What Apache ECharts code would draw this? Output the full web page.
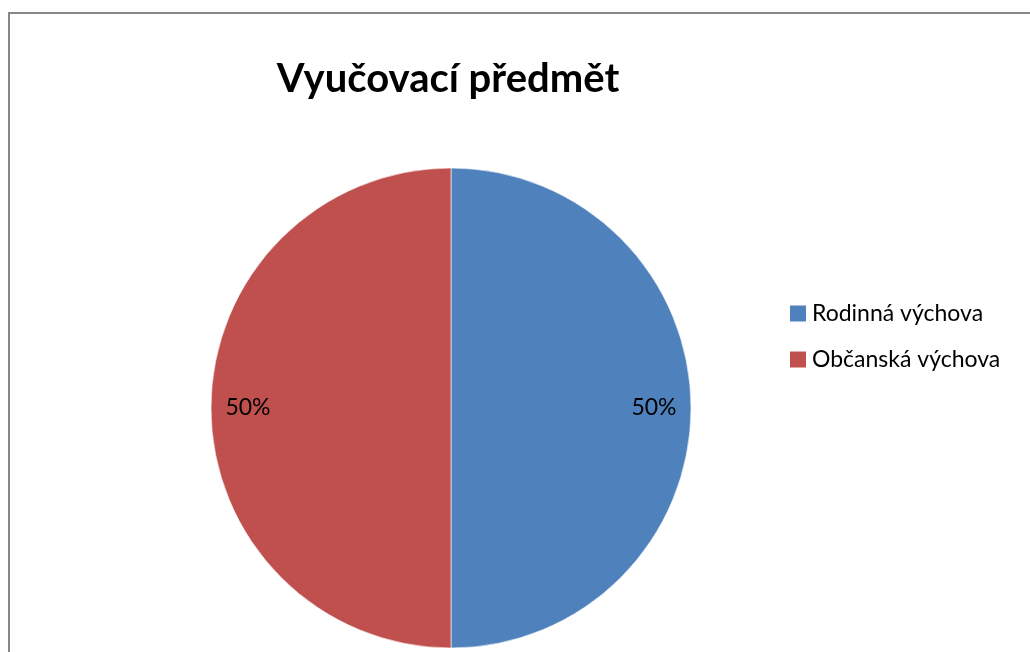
<!DOCTYPE html>
<html><head><meta charset="utf-8">
<script src="https://cdn.jsdelivr.net/npm/echarts@6/dist/echarts.min.js"></script>
<style>html,body{margin:0;padding:0;background:#fff}#c{width:1030px;height:652px}</style>
</head><body><div id="c"></div>
<script>
const titleText = 'Vyučovací předmět';
const categories = ['Rodinná výchova', 'Občanská výchova'];
const values = [50, 50];
const colors = ['#4F81BD', '#C0504D'];

const data = categories.map((n, i) => ({ name: n, value: values[i], itemStyle: { color: colors[i] } }));
const chart = echarts.init(document.getElementById('c'), null, { renderer: 'canvas' });
chart.setOption({
  animation: false,
  graphic: [{
    type: 'rect', shape: { x: 9, y: 13, width: 1100, height: 700 },
    style: { fill: 'none', stroke: '#878787', lineWidth: 2 }, silent: true
  }],
  title: {
    text: titleText, left: 443, top: 54, textAlign: 'center',
    textStyle: { fontFamily: 'Lato', fontWeight: 'bold', fontSize: 40, color: '#000' }
  },
  legend: {
    orient: 'vertical', left: 783, top: 297, itemWidth: 18, itemHeight: 18, itemGap: 23,
    icon: 'rect', data: categories,
    textStyle: { fontFamily: 'Lato', fontSize: 23, color: '#000', padding: [0, 0, 0, 0] }
  },
  series: [{
    type: 'pie', center: [451, 408], radius: [0, 240], startAngle: 90, clockwise: true,
    data: data, label: { show: false }, labelLine: { show: false },
    itemStyle: { borderColor: '#fff', borderWidth: 0.6 }, silent: true
  }, {
    type: 'pie', center: [451, 408], radius: [160, 240], startAngle: 90, clockwise: true,
    data: data.map(d => ({ name: d.name, value: d.value, itemStyle: { color: 'rgba(0,0,0,0)' } })),
    legendHoverLink: false, silent: true,
    label: { show: true, position: 'inside', formatter: p => Math.round(p.percent) + '%', fontFamily: 'Lato', fontSize: 23, color: '#000' },
    labelLine: { show: false }, emphasis: { disabled: true }
  }]
});
</script></body></html>
